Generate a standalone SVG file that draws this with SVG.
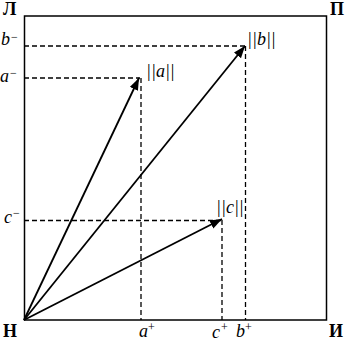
<svg xmlns="http://www.w3.org/2000/svg" width="347" height="341" viewBox="0 0 347 341">
<style>
.box{fill:none;stroke:#000;stroke-width:1.5}
.dash{fill:none;stroke:#000;stroke-width:1.3;stroke-dasharray:5,3}
.vec{fill:none;stroke:#000;stroke-width:1.8}
.corner{font-family:"Liberation Serif",serif;font-weight:bold;font-size:18px;fill:#000}
.lab{font-family:"Liberation Serif",serif;font-style:italic;font-size:18px;fill:#000}
.sup{font-family:"Liberation Serif",serif;font-size:12px;fill:#000}
</style>
<defs>
<marker id="ah" markerUnits="userSpaceOnUse" markerWidth="13" markerHeight="10" refX="12" refY="4.5" orient="auto">
<path d="M0,0 L12,4.5 L0,9 z" fill="#000"/>
</marker>
</defs>
<rect id="frame" class="box" x="24.5" y="16" width="302" height="304"/>
<g id="connectors">
<line class="dash" x1="24" y1="46" x2="245" y2="46"/>
<line class="dash" x1="24" y1="78" x2="140" y2="78"/>
<line class="dash" x1="24" y1="220.5" x2="222" y2="220.5"/>
<line class="dash" x1="141" y1="78" x2="141" y2="320"/>
<line class="dash" x1="245.5" y1="46" x2="245.5" y2="320"/>
<line class="dash" x1="222" y1="220" x2="222" y2="320"/>
<line class="vec" x1="24" y1="320" x2="139" y2="78" marker-end="url(#ah)"/>
<line class="vec" x1="24" y1="320" x2="245" y2="46" marker-end="url(#ah)"/>
<line class="vec" x1="24" y1="320" x2="222" y2="219" marker-end="url(#ah)"/>
</g>
<g id="corners">
<text class="corner" x="3" y="15">Л</text>
<text class="corner" x="330" y="15">П</text>
<text class="corner" x="3" y="337">Н</text>
<text class="corner" x="329" y="337">И</text>
</g>
<g id="labels">
<text class="lab" x="1" y="45">b</text><text class="sup" x="11" y="41">−</text>
<text class="lab" x="0" y="82">a</text><text class="sup" x="10" y="77">−</text>
<text class="lab" x="4" y="223">c</text><text class="sup" x="13" y="217">−</text>
<text class="lab" x="139" y="337">a</text><text class="sup" x="148" y="331">+</text>
<text class="lab" x="212" y="338">c</text><text class="sup" x="221" y="331">+</text>
<text class="lab" x="236" y="337">b</text><text class="sup" x="245" y="331">+</text>
<text class="lab" x="146" y="77">||a||</text>
<text class="lab" x="247" y="45">||b||</text>
<text class="lab" x="216" y="213">||c||</text>
</g>
</svg>
